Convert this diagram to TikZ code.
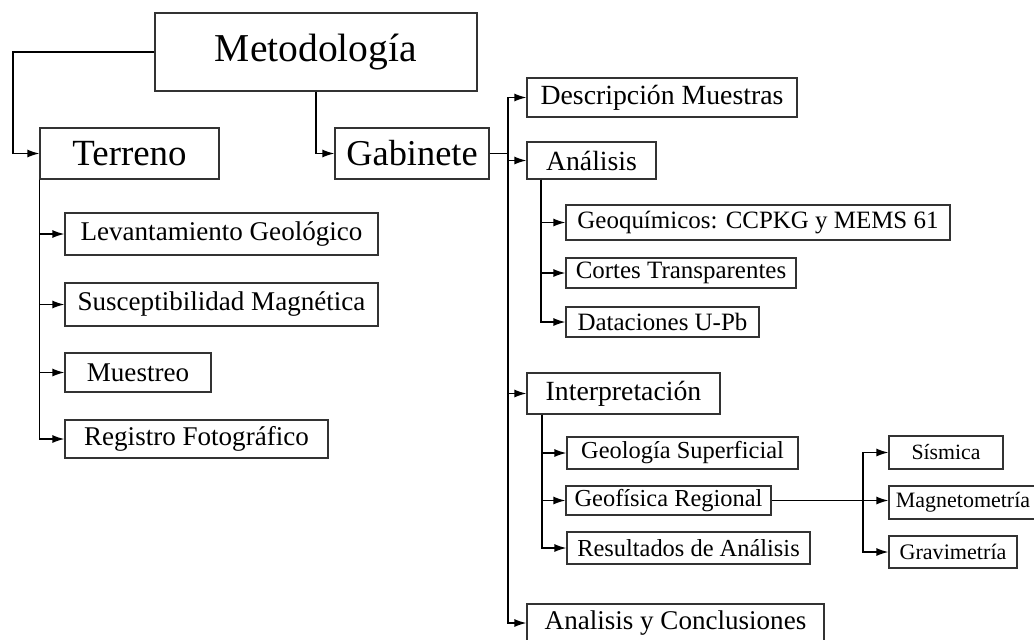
\documentclass[tikz,border=0pt]{standalone}
\usepackage{fontspec}
\setmainfont{Liberation Serif}
\usepackage{tikz}
\usetikzlibrary{arrows.meta, calc}

\begin{document}
\begin{tikzpicture}[x=0.02cm, y=-0.02cm,
		box/.style={draw=black!80, line width=0.7pt, inner sep=0pt, align=center},
		wh/.style 2 args={minimum width=#1*0.02cm, minimum height=#2*0.02cm},
		fs/.style={font=\fontsize{#1}{#1}\selectfont},
		link/.style={line width=0.8pt, -{Latex[length=2.4mm, width=1.6mm]}}]
		\useasboundingbox (0, 0) rectangle (1034, 639);

		% raiz y primer nivel
		\draw (316, 52) node[box, fs=22.5, wh={322}{78}] (metod)    {Metodología};
		\draw (129.5, 153.5) node[box, fs=21, wh={179}{51}] (terreno)    {Terreno};
		\draw (412, 153.5) node[box, fs=20.7, wh={154}{51}] (gabinete)    {Gabinete};
		\coordinate (lbend) at (13, 52);
		\coordinate (trunk) at (508, 153.5);
		\draw[link] (metod.west) -- (lbend) |- (terreno.west);
		\draw[link] (metod.south) |- (gabinete.west);

		% terreno
		\draw (221.5, 234) node[box, fs=15.4, wh={313}{42}] (levant)    {Levantamiento Geológico};
		\draw (221.5, 304.5) node[box, fs=15.4, wh={313}{43}] (suscep)    {Susceptibilidad Magnética};
		\draw (138, 372.5) node[box, fs=15.4, wh={146}{39}] (muestreo)    {Muestreo};
		\draw (196.5, 439) node[box, fs=15.4, wh={263}{38}] (registro)    {Registro Fotográfico};
		\draw[link] (terreno.south west) |- (levant.west);
		\draw[link] (terreno.south west) |- (suscep.west);
		\draw[link] (terreno.south west) |- (muestreo.west);
		\draw[link] (terreno.south west) |- (registro.west);

		% gabinete
		\draw (662, 97.5) node[box, fs=15.8, wh={270}{39}] (descr)    {Descripción Muestras};
		\draw (591.5, 160.5) node[box, fs=15.8, wh={129}{37}] (analisis)    {Análisis};
		\draw (623.5, 393.5) node[box, fs=15.8, wh={193}{41}] (interp)    {Interpretación};
		\draw (675.5, 623) node[box, fs=15.4, wh={297}{38}] (conclus)    {Analisis y Conclusiones};
		\draw[line width=0.8pt] (gabinete.east) -- (trunk);
		\draw[link] (trunk) |- (descr.west);
		\draw[link] (trunk) |- (conclus.west);
		\draw[link] (trunk |- analisis.west) -- (analisis.west);
		\draw[link] (trunk |- interp.west) -- (interp.west);

		% analisis
		\draw (758, 222.5) node[box, fs=14.2, wh={384}{35}] (geoq)    {Geoquímicos: CCPKG y MEMS 61};
		\draw (681, 273) node[box, fs=14.2, wh={230}{30}] (cortes)    {Cortes Transparentes};
		\draw (662.5, 322) node[box, fs=14.2, wh={193}{30}] (datac)    {Dataciones U-Pb};
		\draw[link] ([xshift=0.29cm]analisis.south west) |- (geoq.west);
		\draw[link] ([xshift=0.29cm]analisis.south west) |- (cortes.west);
		\draw[link] ([xshift=0.29cm]analisis.south west) |- (datac.west);

		% interpretacion
		\draw (682.5, 453) node[box, fs=13.9, wh={231}{32}] (geolsup)    {Geología Superficial};
		\draw (668.5, 500.5) node[box, fs=13.9, wh={205}{29}] (geofis)    {Geofísica Regional};
		\draw (688.5, 548) node[box, fs=13.9, wh={243}{32}] (result)    {Resultados de Análisis};
		\draw[link] ([xshift=0.31cm]interp.south west) |- (geolsup.west);
		\draw[link] ([xshift=0.31cm]interp.south west) |- (geofis.west);
		\draw[link] ([xshift=0.31cm]interp.south west) |- (result.west);

		% geofisica
		\draw (946, 452.5) node[box, fs=12.4, wh={114}{33}] (sismica)    {Sísmica};
		\draw (963, 502.5) node[box, fs=12.5, wh={148}{33}] (magnet)    {Magnetometría};
		\draw (953, 552) node[box, fs=12.6, wh={128}{32}] (gravim)    {Gravimetría};
		\coordinate (fork) at (863, 500.5);
		\draw[link] (geofis.east) -- (geofis.east -| magnet.west);
		\draw[link] (fork) |- (sismica.west);
		\draw[link] (fork) |- (gravim.west);
	\end{tikzpicture}
\end{document}
